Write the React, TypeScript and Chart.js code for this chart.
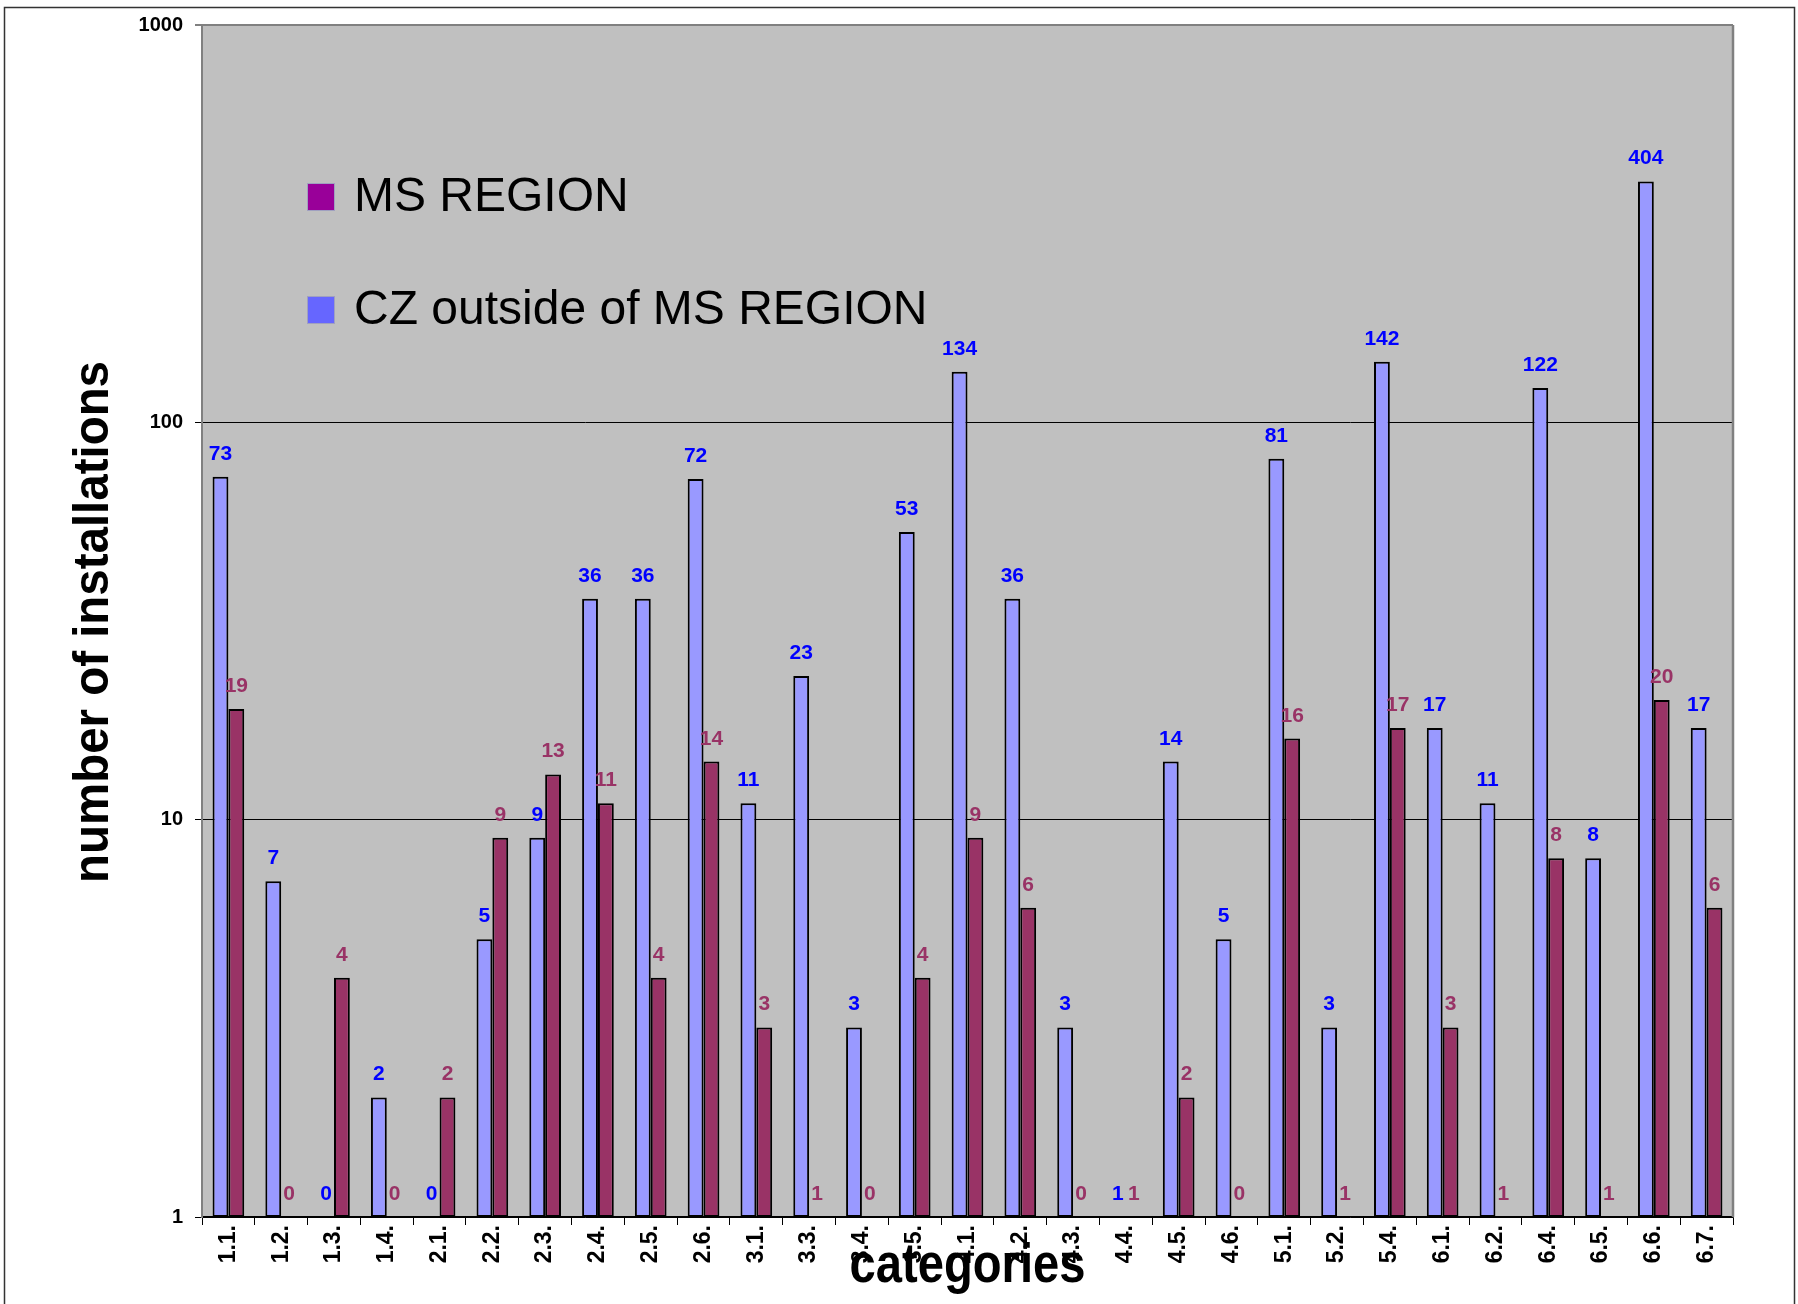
import React, { useEffect, useRef } from 'react';
import { Chart, registerables } from 'chart.js';

Chart.register(...registerables);

const categories = [
  '1.1.', '1.2.', '1.3.', '1.4.', '2.1.', '2.2.', '2.3.', '2.4.', '2.5.', '2.6.',
  '3.1.', '3.3.', '3.4.', '3.5.', '4.1.', '4.2.', '4.3.', '4.4.', '4.5.', '4.6.',
  '5.1.', '5.2.', '5.4.', '6.1.', '6.2.', '6.4.', '6.5.', '6.6.', '6.7.',
];
const czOutside = [73, 7, 0, 2, 0, 5, 9, 36, 36, 72, 11, 23, 3, 53, 134, 36, 3, 1, 14, 5, 81, 3, 142, 17, 11, 122, 8, 404, 17];
const msRegion = [19, 0, 4, 0, 2, 9, 13, 11, 4, 14, 3, 1, 0, 4, 9, 6, 0, 1, 2, 0, 16, 1, 17, 3, 1, 8, 1, 20, 6];
const yTicks = [1, 10, 100, 1000];

const FONT = "'Liberation Sans', Arial, sans-serif";
const seriesNames = ['CZ outside of MS REGION', 'MS REGION'];
const seriesValues = [czOutside, msRegion];
const labelColors = ['#0000FF', '#993366'];
const legendEntries = [
  { text: 'MS REGION', color: '#990099' },
  { text: 'CZ outside of MS REGION', color: '#6666FF' },
];

const decorPlugin = {
  id: 'decor',
  beforeDraw(chart: any) {
    const { ctx, chartArea: a } = chart;
    ctx.save();
    ctx.fillStyle = '#FFFFFF';
    ctx.fillRect(0, 0, chart.width, chart.height);
    ctx.fillStyle = '#C0C0C0';
    ctx.fillRect(a.left, a.top, a.right - a.left, a.bottom - a.top);
    ctx.strokeStyle = '#333333';
    ctx.lineWidth = 1.5;
    ctx.strokeRect(4.5, 7.5, chart.width - 8, chart.height + 20);
    ctx.restore();
  },
  afterDatasetsDraw(chart: any) {
    const { ctx, chartArea: a } = chart;
    const yScale = chart.scales.y;
    ctx.save();
    // right border of plot area
    ctx.strokeStyle = '#808080';
    ctx.lineWidth = 2.5;
    ctx.beginPath();
    ctx.moveTo(a.right, a.top);
    ctx.lineTo(a.right, a.bottom);
    ctx.stroke();

    // data labels
    ctx.font = `bold 21px ${FONT}`;
    ctx.textAlign = 'center';
    ctx.textBaseline = 'alphabetic';
    seriesValues.forEach((vals, di) => {
      const meta = chart.getDatasetMeta(di);
      ctx.fillStyle = labelColors[di];
      vals.forEach((v, i) => {
        const el = meta.data[i];
        if (!el) return;
        const y = yScale.getPixelForValue(Math.max(v, 1));
        ctx.fillText(String(v), el.x, y - 17);
      });
    });

    // legend
    const rows = [197, 310];
    legendEntries.forEach((e, i) => {
      const cy = rows[i];
      ctx.fillStyle = e.color;
      ctx.fillRect(307, cy - 14, 28, 28);
      ctx.strokeStyle = '#A0A0C0';
      ctx.lineWidth = 1;
      ctx.strokeRect(307.5, cy - 13.5, 27, 27);
      ctx.fillStyle = '#000000';
      ctx.font = `48px ${FONT}`;
      ctx.textAlign = 'left';
      ctx.textBaseline = 'middle';
      ctx.fillText(e.text, 354, cy + 1);
    });
    ctx.restore();
  },
  afterDraw(chart: any) {
    const { ctx, chartArea: a } = chart;
    const xScale = chart.scales.x;
    ctx.save();
    // x tick labels (rotated)
    ctx.font = `bold 23px ${FONT}`;
    ctx.fillStyle = '#000000';
    ctx.textAlign = 'right';
    ctx.textBaseline = 'middle';
    categories.forEach((c, i) => {
      const x = xScale.getPixelForValue(i);
      ctx.save();
      ctx.translate(x, a.bottom + 8);
      ctx.rotate(-Math.PI / 2);
      ctx.fillText(c, 0, 0);
      ctx.restore();
    });

    // x title
    ctx.font = `bold 55px ${FONT}`;
    ctx.textAlign = 'center';
    ctx.textBaseline = 'alphabetic';
    const xt = 'categories';
    const wx = ctx.measureText(xt).width;
    ctx.save();
    ctx.translate((a.left + a.right) / 2, 1282);
    ctx.scale(236 / wx, 1);
    ctx.fillText(xt, 0, 0);
    ctx.restore();

    // y title
    const yt = 'number of installations';
    ctx.font = `bold 50px ${FONT}`;
    const wy = ctx.measureText(yt).width;
    ctx.save();
    ctx.translate(108, 622);
    ctx.rotate(-Math.PI / 2);
    ctx.scale(522 / wy, 1);
    ctx.fillText(yt, 0, 0);
    ctx.restore();
    ctx.restore();
  },
};

export default function App() {
  const ref = useRef<HTMLCanvasElement | null>(null);
  useEffect(() => {
    document.body.style.margin = '0';
    if (!ref.current) return;
    const chart = new Chart(ref.current, {
      type: 'bar',
      data: {
        labels: categories,
        datasets: [
          {
            label: seriesNames[0],
            data: czOutside.map((v) => (v > 1 ? v : null)),
            backgroundColor: '#9999FF',
            borderColor: '#000000',
            borderWidth: 2,
            borderSkipped: false,
            categoryPercentage: 0.6,
            barPercentage: 1.0,
          },
          {
            label: seriesNames[1],
            data: msRegion.map((v) => (v > 1 ? v : null)),
            backgroundColor: '#993366',
            borderColor: '#000000',
            borderWidth: 2,
            borderSkipped: false,
            categoryPercentage: 0.6,
            barPercentage: 1.0,
          },
        ],
      },
      options: {
        responsive: false,
        devicePixelRatio: 1,
        animation: false,
        layout: { padding: { left: 0, top: 25, right: 65, bottom: 0 } },
        plugins: {
          legend: { display: false },
          tooltip: { enabled: false },
        },
        scales: {
          x: {
            type: 'category',
            offset: true,
            grid: {
              display: true,
              drawOnChartArea: false,
              drawTicks: true,
              tickLength: 8,
              color: '#000000',
              lineWidth: 1,
              offset: true,
            },
            border: { display: true, color: '#000000', width: 1.5 },
            ticks: { display: false },
            afterFit(s: any) {
              s.height = 87;
            },
          },
          y: {
            type: 'logarithmic',
            min: 1,
            max: 1000,
            afterBuildTicks(s: any) {
              s.ticks = yTicks.map((v) => ({ value: v }));
            },
            ticks: {
              autoSkip: false,
              callback: (v: any) => String(v),
              font: { family: FONT, size: 20, weight: 'bold' },
              color: '#000000',
              padding: 12,
            },
            grid: {
              color: (c: any) => (c.tick && c.tick.value === 1000 ? '#808080' : '#000000'),
              lineWidth: (c: any) => (c.tick && c.tick.value === 1000 ? 2 : 1),
              tickLength: 7,
              drawTicks: true,
            },
            border: { display: true, color: '#808080', width: 2 },
            afterFit(s: any) {
              s.width = 202;
            },
          },
        },
      },
      plugins: [decorPlugin],
    } as any);
    return () => chart.destroy();
  }, []);
  return (
    <canvas ref={ref} width={1798} height={1304} style={{ display: 'block' }} />
  );
}
